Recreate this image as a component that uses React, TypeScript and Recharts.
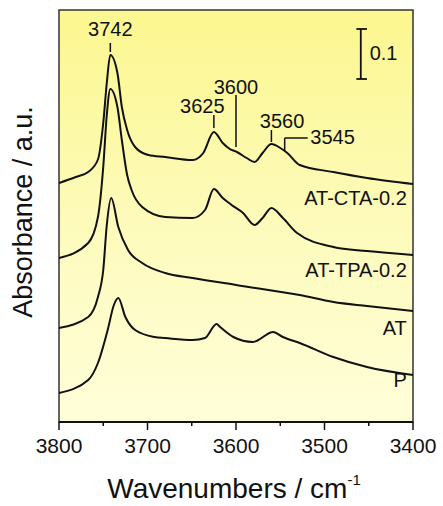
import { LineChart, Line, XAxis, YAxis, ReferenceArea, ReferenceLine, ReferenceDot } from 'recharts';

// offset absorbance (a.u.); 0.1 = scale bar
const atCta = [
  { w: 3800, a: 0.478 }, { w: 3781, a: 0.49 }, { w: 3767, a: 0.5 }, { w: 3756, a: 0.525 },
  { w: 3750, a: 0.598 }, { w: 3746, a: 0.678 }, { w: 3742, a: 0.734 }, { w: 3734, a: 0.698 },
  { w: 3729, a: 0.63 }, { w: 3723, a: 0.584 }, { w: 3714, a: 0.55 }, { w: 3699, a: 0.534 },
  { w: 3680, a: 0.53 }, { w: 3649, a: 0.524 }, { w: 3637, a: 0.538 }, { w: 3625, a: 0.58 },
  { w: 3615, a: 0.558 }, { w: 3607, a: 0.546 }, { w: 3599, a: 0.54 }, { w: 3588, a: 0.528 },
  { w: 3579, a: 0.52 }, { w: 3570, a: 0.538 }, { w: 3560, a: 0.556 }, { w: 3550, a: 0.548 },
  { w: 3542, a: 0.538 }, { w: 3528, a: 0.514 }, { w: 3490, a: 0.5 }, { w: 3452, a: 0.488 },
  { w: 3400, a: 0.476 },
];

const atTpa = [
  { w: 3800, a: 0.328 }, { w: 3767, a: 0.358 }, { w: 3756, a: 0.41 }, { w: 3750, a: 0.51 },
  { w: 3746, a: 0.614 }, { w: 3742, a: 0.666 }, { w: 3734, a: 0.63 }, { w: 3729, a: 0.564 },
  { w: 3723, a: 0.494 }, { w: 3718, a: 0.464 }, { w: 3706, a: 0.43 }, { w: 3680, a: 0.41 },
  { w: 3649, a: 0.408 }, { w: 3635, a: 0.424 }, { w: 3625, a: 0.466 }, { w: 3615, a: 0.448 },
  { w: 3605, a: 0.434 }, { w: 3592, a: 0.418 }, { w: 3579, a: 0.394 }, { w: 3570, a: 0.408 },
  { w: 3560, a: 0.428 }, { w: 3547, a: 0.408 }, { w: 3531, a: 0.378 }, { w: 3490, a: 0.35 },
  { w: 3452, a: 0.342 }, { w: 3400, a: 0.334 },
];

const at = [
  { w: 3800, a: 0.188 }, { w: 3767, a: 0.21 }, { w: 3756, a: 0.25 }, { w: 3750, a: 0.304 },
  { w: 3746, a: 0.394 }, { w: 3741, a: 0.448 }, { w: 3733, a: 0.39 }, { w: 3722, a: 0.344 },
  { w: 3706, a: 0.318 }, { w: 3680, a: 0.298 }, { w: 3649, a: 0.288 }, { w: 3600, a: 0.274 },
  { w: 3528, a: 0.254 }, { w: 3490, a: 0.24 }, { w: 3452, a: 0.232 }, { w: 3400, a: 0.222 },
];

const p = [
  { w: 3800, a: 0.058 }, { w: 3767, a: 0.084 }, { w: 3756, a: 0.118 }, { w: 3745, a: 0.184 },
  { w: 3738, a: 0.234 }, { w: 3733, a: 0.248 }, { w: 3725, a: 0.21 }, { w: 3714, a: 0.184 },
  { w: 3692, a: 0.17 }, { w: 3680, a: 0.168 }, { w: 3649, a: 0.164 }, { w: 3635, a: 0.168 },
  { w: 3622, a: 0.196 }, { w: 3618, a: 0.19 }, { w: 3603, a: 0.17 }, { w: 3581, a: 0.16 },
  { w: 3558, a: 0.18 }, { w: 3547, a: 0.17 }, { w: 3528, a: 0.158 }, { w: 3490, a: 0.13 },
  { w: 3452, a: 0.11 }, { w: 3400, a: 0.094 },
];

const series = [atCta, atTpa, at, p];

const seriesLabels = [
  { text: 'AT-CTA-0.2', w: 3407, a: 0.434 },
  { text: 'AT-TPA-0.2', w: 3407, a: 0.29 },
  { text: 'AT', w: 3407, a: 0.174 },
  { text: 'P', w: 3407, a: 0.07 },
];

// peak markers: tick segment + label
const peakTicks = [
  { w: 3742, a1: 0.74, a2: 0.758 },
  { w: 3625, a1: 0.588, a2: 0.614 },
  { w: 3600, a1: 0.55, a2: 0.654 },
  { w: 3560, a1: 0.56, a2: 0.584 },
  { w: 3545, a1: 0.542, a2: 0.568 },
];

const peakLabels = [
  { text: '3742', w: 3742, a: 0.772, anchor: 'middle' },
  { text: '3625', w: 3638, a: 0.618, anchor: 'middle' },
  { text: '3600', w: 3600, a: 0.656, anchor: 'middle' },
  { text: '3560', w: 3548, a: 0.588, anchor: 'middle' },
  { text: '3545', w: 3516, a: 0.556, anchor: 'start' },
];

const xTicks = [3800, 3750, 3700, 3650, 3600, 3550, 3500, 3450, 3400];
const yDomain = [0, 0.824];

const INK = '#111';
const FONT = 'Liberation Sans, Arial, sans-serif';

const XTick = ({ x, y, payload }: any) => {
  const major = payload.value % 100 === 0;
  return (
    <g>
      <line x1={x} x2={x} y1={y} y2={y + (major ? 8 : 4)} stroke={INK} strokeWidth={1.5} />
      {major && (
        <text x={x} y={y + 31} textAnchor="middle" fontSize={21} fontFamily={FONT} fill={INK}>
          {payload.value}
        </text>
      )}
    </g>
  );
};

const textLabel = (text: string, anchor: string, size = 20) => (props: any) => {
  const vb = props.viewBox;
  return (
    <text x={vb.x} y={vb.y} textAnchor={anchor} fontSize={size} fontFamily={FONT} fill={INK}>
      {text}
    </text>
  );
};

export default function App() {
  return (
    <div style={{ position: 'absolute', left: 0, top: 0, background: '#fff' }}>
      <LineChart width={443} height={506} margin={{ top: 10, right: 30, bottom: 0, left: 0 }}>
        <defs>
          <linearGradient id="bgGrad" x1="0" y1="0" x2="0" y2="1">
            <stop offset="0%" stopColor="#fcf78f" />
            <stop offset="55%" stopColor="#fdfbbd" />
            <stop offset="100%" stopColor="#fffed9" />
          </linearGradient>
        </defs>
        <XAxis
          dataKey="w"
          type="number"
          domain={[3400, 3800]}
          reversed
          ticks={xTicks}
          interval={0}
          height={84}
          tickSize={0}
          tickMargin={0}
          tick={<XTick />}
          axisLine={{ stroke: INK, strokeWidth: 2 }}
          allowDataOverflow
          label={{
            content: (props: any) => {
              const vb = props.viewBox;
              return (
                <text x={vb.x + vb.width / 2 - 2} y={vb.y + 76} textAnchor="middle" fontSize={28} fontFamily={FONT} fill={INK}>
                  Wavenumbers / cm
                  <tspan dy={-13} fontSize={15}>-1</tspan>
                </text>
              );
            },
          }}
        />
        <YAxis
          type="number"
          domain={yDomain}
          width={59}
          tick={false}
          tickLine={false}
          axisLine={false}
          allowDataOverflow
          label={{
            content: (props: any) => {
              const vb = props.viewBox;
              const cx = vb.x + 23;
              const cy = vb.y + vb.height / 2 - 4;
              return (
                <text x={cx} y={cy} transform={`rotate(-90 ${cx} ${cy})`} textAnchor="middle" dominantBaseline="central" fontSize={27} fontFamily={FONT} fill={INK}>
                  Absorbance / a.u.
                </text>
              );
            },
          }}
        />
        <ReferenceArea x1={3800} x2={3400} y1={yDomain[0]} y2={yDomain[1]} fill="url(#bgGrad)" fillOpacity={1} stroke="#333" strokeWidth={1.5} />

        {series.map((d, i) => (
          <Line key={i} data={d} dataKey="a" type="monotone" stroke={INK} strokeWidth={2} dot={false} isAnimationActive={false} />
        ))}

        {peakTicks.map((t) => (
          <ReferenceLine key={`pt-${t.w}`} segment={[{ x: t.w, y: t.a1 }, { x: t.w, y: t.a2 }]} stroke={INK} strokeWidth={1.5} />
        ))}
        <ReferenceLine segment={[{ x: 3545, y: 0.568 }, { x: 3519, y: 0.568 }]} stroke={INK} strokeWidth={1.5} />

        {/* 0.1 scale bar */}
        <ReferenceLine segment={[{ x: 3459, y: 0.686 }, { x: 3459, y: 0.786 }]} stroke={INK} strokeWidth={1.8} />
        <ReferenceLine segment={[{ x: 3464, y: 0.786 }, { x: 3452, y: 0.786 }]} stroke={INK} strokeWidth={1.8} />
        <ReferenceLine segment={[{ x: 3464, y: 0.686 }, { x: 3452, y: 0.686 }]} stroke={INK} strokeWidth={1.8} />
        <ReferenceDot x={3449} y={0.724} r={0} fill="none" stroke="none" label={textLabel('0.1', 'start')} />

        {peakLabels.map((l) => (
          <ReferenceDot key={`pl-${l.text}`} x={l.w} y={l.a} r={0} fill="none" stroke="none" label={textLabel(l.text, l.anchor)} />
        ))}
        {seriesLabels.map((l) => (
          <ReferenceDot key={`sl-${l.text}`} x={l.w} y={l.a} r={0} fill="none" stroke="none" label={textLabel(l.text, 'end', 20)} />
        ))}
      </LineChart>
    </div>
  );
}
